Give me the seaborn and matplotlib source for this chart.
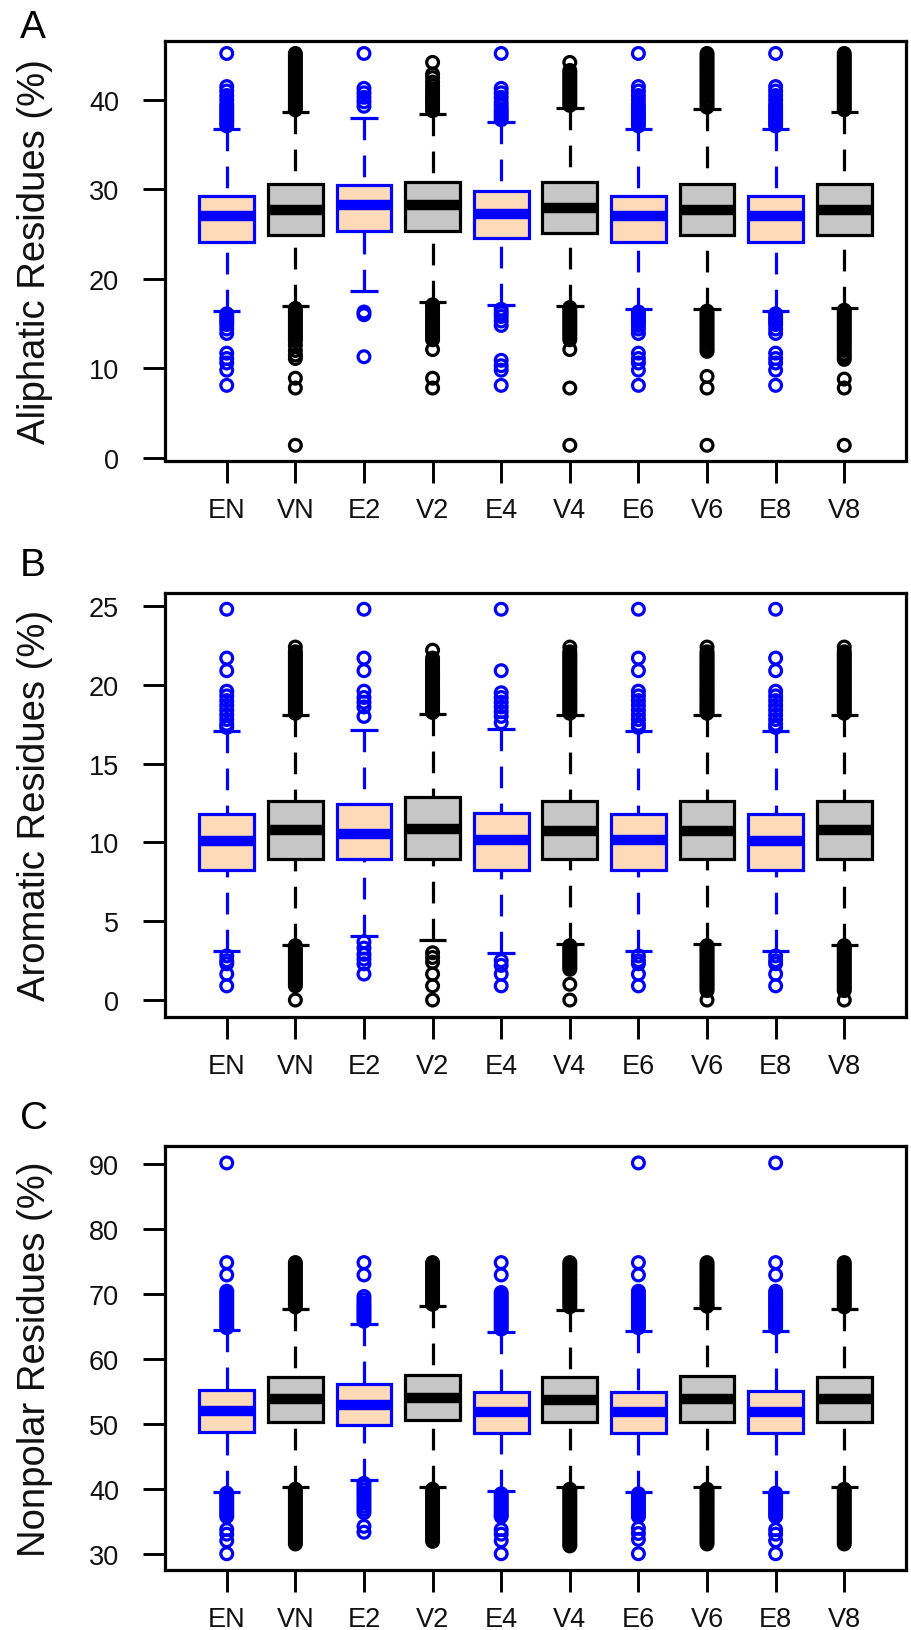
import numpy as np
import pandas as pd
import matplotlib
matplotlib.use("Agg")
import matplotlib.pyplot as plt
import seaborn as sns

# ---------------- data ----------------
labels = ["EN", "VN", "E2", "V2", "E4", "V4", "E6", "V6", "E8", "V8"]
kinds = ["E", "V", "E", "V", "E", "V", "E", "V", "E", "V"]

# Panel A: Aliphatic residues
ali_q1 = [24.1, 24.9, 25.4, 25.4, 24.6, 25.1, 24.15, 24.9, 24.1, 24.9]
ali_med = [27.0, 27.7, 28.3, 28.3, 27.3, 27.9, 27.0, 27.7, 27.0, 27.7]
ali_q3 = [29.3, 30.6, 30.5, 30.8, 29.8, 30.8, 29.3, 30.6, 29.3, 30.6]
ali_lo = [16.4, 17.0, 18.7, 17.45, 17.1, 17.0, 16.6, 16.6, 16.4, 16.8]
ali_hi = [36.8, 38.7, 37.95, 38.4, 37.5, 39.1, 36.8, 38.95, 36.8, 38.7]
ali_fliers = [
    [45.2, 41.5, 41.0, 40.5, 40.0, 39.5, 39.2, 38.9, 38.6, 38.3, 38.0, 37.7, 37.4, 37.1,
     16.1, 15.8, 15.5, 15.2, 14.9, 14.4, 13.9, 11.7, 11.1, 10.6, 9.8, 8.1],
    [45.2, 44.9, 44.6, 44.3, 44.0, 43.7, 43.4, 43.1, 42.8, 42.5, 42.2, 41.9, 41.6, 41.3, 41.0,
     40.7, 40.4, 40.1, 39.8, 39.5, 39.2, 38.9,
     16.7, 16.4, 16.1, 15.8, 15.5, 15.2, 14.9, 14.6, 14.3, 14.0, 13.7, 13.4, 13.1,
     12.6, 12.0, 11.5, 11.1, 8.9, 7.8, 1.4],
    [45.2, 41.3, 40.8, 40.3, 39.8, 39.3,
     16.3, 16.0, 11.3],
    [44.2, 42.9, 42.5, 42.0, 41.6, 41.2, 40.9, 40.6, 40.3, 40.0, 39.7, 39.4, 39.1, 38.8,
     17.1, 16.8, 16.5, 16.2, 15.9, 15.6, 15.3, 15.0, 14.7, 14.4, 14.1, 13.8, 13.5, 13.2,
     12.1, 8.9, 7.8],
    [45.2, 41.3, 40.8, 40.3, 39.8, 39.4, 39.0, 38.7, 38.4, 38.1, 37.8,
     16.6, 16.2, 15.8, 15.3, 14.8, 10.9, 10.3, 9.8, 8.1],
    [44.2, 43.3, 43.0, 42.7, 42.4, 42.1, 41.8, 41.5, 41.2, 40.9, 40.6, 40.3, 40.0, 39.7, 39.4,
     16.8, 16.5, 16.2, 15.9, 15.6, 15.3, 15.0, 14.7, 14.4, 14.1, 13.8, 13.5, 13.2,
     12.1, 7.8, 1.4],
    [45.2, 41.5, 41.0, 40.5, 40.0, 39.5, 39.2, 38.9, 38.6, 38.3, 38.0, 37.7, 37.4, 37.1,
     16.3, 16.0, 15.7, 15.4, 15.1, 14.8, 14.4, 13.9, 11.7, 11.1, 10.6, 9.8, 8.1],
    [45.2, 44.9, 44.6, 44.3, 44.0, 43.7, 43.4, 43.1, 42.8, 42.5, 42.2, 41.9, 41.6, 41.3, 41.0,
     40.7, 40.4, 40.1, 39.8, 39.5, 39.2,
     16.4, 16.1, 15.8, 15.5, 15.2, 14.9, 14.6, 14.3, 14.0, 13.7, 13.4, 13.1, 12.8, 12.5,
     12.2, 11.9, 9.1, 7.8, 1.4],
    [45.2, 41.5, 41.0, 40.5, 40.0, 39.5, 39.2, 38.9, 38.6, 38.3, 38.0, 37.7, 37.4, 37.1,
     16.1, 15.8, 15.5, 15.2, 14.9, 14.4, 13.9, 11.7, 11.1, 10.6, 9.8, 8.1],
    [45.2, 44.9, 44.6, 44.3, 44.0, 43.7, 43.4, 43.1, 42.8, 42.5, 42.2, 41.9, 41.6, 41.3, 41.0,
     40.7, 40.4, 40.1, 39.8, 39.5, 39.2, 38.9,
     16.5, 16.2, 15.9, 15.6, 15.3, 15.0, 14.7, 14.4, 14.1, 13.8, 13.5, 13.2, 12.9, 12.6,
     12.3, 12.0, 11.6, 11.3, 11.0, 8.8, 7.8, 1.4],
]

# Panel B: Aromatic residues
aro_q1 = [8.26, 8.92, 8.96, 8.96, 8.26, 8.92, 8.26, 8.92, 8.26, 8.92]
aro_med = [10.08, 10.8, 10.55, 10.87, 10.13, 10.7, 10.13, 10.7, 10.08, 10.8]
aro_q3 = [11.82, 12.6, 12.46, 12.88, 11.9, 12.6, 11.82, 12.6, 11.82, 12.6]
aro_lo = [3.09, 3.5, 4.05, 3.83, 2.99, 3.56, 3.09, 3.56, 3.09, 3.5]
aro_hi = [17.06, 18.07, 17.16, 18.14, 17.2, 18.07, 17.06, 18.07, 17.06, 18.07]
aro_fliers = [
    [24.8, 21.7, 20.9, 19.6, 19.3, 19.0, 18.7, 18.4, 18.1, 17.8, 17.5, 17.3,
     2.8, 2.5, 2.3, 1.65, 0.9],
    [22.4, 22.1, 21.95, 21.8, 21.65, 21.5, 21.35, 21.2, 21.05, 20.9, 20.75, 20.6, 20.45,
     20.3, 20.15, 20.0, 19.85, 19.7, 19.55, 19.4, 19.25, 19.1, 18.95, 18.8, 18.65, 18.5,
     18.35, 18.2,
     3.45, 3.3, 3.15, 3.0, 2.85, 2.7, 2.55, 2.4, 2.25, 2.1, 1.95, 1.8, 1.65, 1.5, 1.35,
     1.2, 1.05, 0.9, 0.0],
    [24.8, 21.7, 20.9, 19.6, 19.2, 18.9, 18.6, 18.0,
     3.7, 3.3, 2.9, 2.6, 2.3, 1.65],
    [22.2, 21.7, 21.55, 21.4, 21.25, 21.1, 20.95, 20.8, 20.65, 20.5, 20.35, 20.2, 20.05,
     19.9, 19.75, 19.6, 19.45, 19.3, 19.15, 19.0, 18.85, 18.7, 18.55, 18.4, 18.25,
     3.0, 2.7, 2.4, 1.65, 0.9, 0.0],
    [24.8, 20.9, 19.5, 19.2, 18.9, 18.6, 18.3, 18.0, 17.6,
     2.5, 2.2, 1.65, 0.9],
    [22.4, 22.1, 21.95, 21.8, 21.65, 21.5, 21.35, 21.2, 21.05, 20.9, 20.75, 20.6, 20.45,
     20.3, 20.15, 20.0, 19.85, 19.7, 19.55, 19.4, 19.25, 19.1, 18.95, 18.8, 18.65, 18.5,
     18.35, 18.2,
     3.45, 3.3, 3.15, 3.0, 2.85, 2.7, 2.55, 2.4, 2.25, 2.1, 1.95, 1.0, 0.0],
    [24.8, 21.7, 20.9, 19.6, 19.3, 19.0, 18.7, 18.4, 18.1, 17.8, 17.5, 17.3,
     2.8, 2.5, 2.3, 1.65, 0.9],
    [22.4, 22.1, 21.95, 21.8, 21.65, 21.5, 21.35, 21.2, 21.05, 20.9, 20.75, 20.6, 20.45,
     20.3, 20.15, 20.0, 19.85, 19.7, 19.55, 19.4, 19.25, 19.1, 18.95, 18.8, 18.65, 18.5,
     18.35, 18.2,
     3.45, 3.3, 3.15, 3.0, 2.85, 2.7, 2.55, 2.4, 2.25, 2.1, 1.95, 1.8, 1.65, 1.5, 1.35,
     1.2, 1.05, 0.9, 0.75, 0.6, 0.0],
    [24.8, 21.7, 20.9, 19.6, 19.3, 19.0, 18.7, 18.4, 18.1, 17.8, 17.5, 17.3,
     2.8, 2.5, 2.3, 1.65, 0.9],
    [22.4, 22.1, 21.95, 21.8, 21.65, 21.5, 21.35, 21.2, 21.05, 20.9, 20.75, 20.6, 20.45,
     20.3, 20.15, 20.0, 19.85, 19.7, 19.55, 19.4, 19.25, 19.1, 18.95, 18.8, 18.65, 18.5,
     18.35, 18.2,
     3.45, 3.3, 3.15, 3.0, 2.85, 2.7, 2.55, 2.4, 2.25, 2.1, 1.95, 1.8, 1.65, 1.5, 1.35,
     1.2, 1.05, 0.9, 0.75, 0.6, 0.0],
]

# Panel C: Nonpolar residues
npl_q1 = [48.78, 50.4, 49.9, 50.7, 48.7, 50.4, 48.7, 50.4, 48.7, 50.4]
npl_med = [52.0, 53.8, 52.9, 54.05, 51.9, 53.7, 51.9, 53.8, 51.9, 53.8]
npl_q3 = [55.23, 57.3, 56.1, 57.6, 55.0, 57.3, 55.0, 57.4, 55.1, 57.3]
npl_lo = [39.6, 40.3, 41.35, 40.3, 39.7, 40.3, 39.6, 40.3, 39.6, 40.3]
npl_hi = [64.4, 67.6, 65.3, 68.1, 64.1, 67.5, 64.3, 67.9, 64.3, 67.6]
npl_fliers = [
    [90.1, 74.8, 72.9, 70.4, 70.0, 69.6, 69.2, 68.8, 68.4, 68.0, 67.6, 67.2, 66.8, 66.4,
     66.0, 65.6, 65.2, 64.8,
     39.4, 39.0, 38.6, 38.2, 37.8, 37.4, 37.0, 36.6, 36.2, 35.8, 33.8, 33.1, 32.1, 30.1],
    [74.8, 74.4, 74.0, 73.6, 73.2, 72.8, 72.4, 72.0, 71.6, 71.2, 70.8, 70.4, 70.0, 69.6,
     69.2, 68.8, 68.4, 68.0,
     40.0, 39.6, 39.2, 38.8, 38.4, 38.0, 37.6, 37.2, 36.8, 36.4, 36.0, 35.6, 35.2, 34.8,
     34.4, 34.0, 33.6, 33.2, 32.8, 32.4, 32.0, 31.6],
    [74.8, 72.9, 69.6, 69.1, 68.6, 68.2, 67.8, 67.4, 67.0, 66.6, 66.2, 65.8,
     40.9, 40.4, 39.9, 39.4, 38.9, 38.4, 37.9, 37.4, 36.9, 36.4, 34.3, 33.4],
    [74.8, 74.4, 74.0, 73.6, 73.2, 72.8, 72.4, 72.0, 71.6, 71.2, 70.8, 70.4, 70.0, 69.6,
     69.2, 68.8, 68.4,
     40.0, 39.6, 39.2, 38.8, 38.4, 38.0, 37.6, 37.2, 36.8, 36.4, 36.0, 35.6, 35.2, 34.8,
     34.4, 34.0, 33.6, 33.2, 32.8, 32.4, 32.0],
    [74.8, 72.9, 70.2, 69.8, 69.4, 69.0, 68.6, 68.2, 67.8, 67.4, 67.0, 66.6, 66.2, 65.8,
     65.4, 65.0, 64.6,
     39.3, 38.9, 38.5, 38.1, 37.7, 37.3, 36.9, 36.5, 36.1, 35.8, 33.8, 33.1, 32.1, 30.1],
    [74.8, 74.4, 74.0, 73.6, 73.2, 72.8, 72.4, 72.0, 71.6, 71.2, 70.8, 70.4, 70.0, 69.6,
     69.2, 68.8, 68.4, 68.0,
     40.0, 39.6, 39.2, 38.8, 38.4, 38.0, 37.6, 37.2, 36.8, 36.4, 36.0, 35.6, 35.2, 34.8,
     34.4, 34.0, 33.6, 33.2, 32.8, 32.4, 32.0, 31.6, 31.3],
    [90.1, 74.8, 72.9, 70.4, 70.0, 69.6, 69.2, 68.8, 68.4, 68.0, 67.6, 67.2, 66.8, 66.4,
     66.0, 65.6, 65.2, 64.8,
     39.3, 38.9, 38.5, 38.1, 37.7, 37.3, 36.9, 36.5, 36.1, 35.8, 34.0, 33.2, 32.3, 30.1],
    [74.8, 74.4, 74.0, 73.6, 73.2, 72.8, 72.4, 72.0, 71.6, 71.2, 70.8, 70.4, 70.0, 69.6,
     69.2, 68.8, 68.4, 68.1,
     40.0, 39.6, 39.2, 38.8, 38.4, 38.0, 37.6, 37.2, 36.8, 36.4, 36.0, 35.6, 35.2, 34.8,
     34.4, 34.0, 33.6, 33.2, 32.8, 32.4, 32.0, 31.6],
    [90.1, 74.8, 72.9, 70.4, 70.0, 69.6, 69.2, 68.8, 68.4, 68.0, 67.6, 67.2, 66.8, 66.4,
     66.0, 65.6, 65.2, 64.8,
     39.4, 39.0, 38.6, 38.2, 37.8, 37.4, 37.0, 36.6, 36.2, 35.8, 33.8, 33.1, 32.1, 30.1],
    [74.8, 74.4, 74.0, 73.6, 73.2, 72.8, 72.4, 72.0, 71.6, 71.2, 70.8, 70.4, 70.0, 69.6,
     69.2, 68.8, 68.4, 68.0,
     40.0, 39.6, 39.2, 38.8, 38.4, 38.0, 37.6, 37.2, 36.8, 36.4, 36.0, 35.6, 35.2, 34.8,
     34.4, 34.0, 33.6, 33.2, 32.8, 32.4, 32.0, 31.6],
]

ylabels = ["Aliphatic Residues (%)", "Aromatic Residues (%)", "Nonpolar Residues (%)"]
panel_letters = ["A", "B", "C"]
yticks_A = [0, 10, 20, 30, 40]
yticks_B = [0, 5, 10, 15, 20, 25]
yticks_C = [30, 40, 50, 60, 70, 80, 90]

# ---------------- style ----------------
sns.set_style("ticks")
plt.rcParams["font.family"] = ["Liberation Sans", "DejaVu Sans"]
plt.rcParams["text.color"] = "black"
plt.rcParams["axes.labelcolor"] = "black"

BLUE = "#0000FF"
PEACH = "#FFDAB9"
GRAY = "#C6C6C6"
LW = 2.3

W, H = 911, 1631
fig = plt.figure(figsize=(W / 100, H / 100), dpi=100)

left = 165 / W
width = (906 - 165) / W
panels_px = [(41.5, 461.5), (594.0, 1017.6), (1147.0, 1571.0)]
ylims = [(-0.3, 46.65), (-1.05, 25.83), (27.6, 92.7)]
letter_base = [38, 576, 1129]


def draw_panel(ax, q1, med, q3, lo, hi, fliers, ylim, yticks):
    pos = np.arange(1, len(labels) + 1)
    stats = [dict(label=l, q1=a, med=m, q3=c, whislo=d, whishi=e, fliers=[])
             for l, a, m, c, d, e in zip(labels, q1, med, q3, lo, hi)]
    art = ax.bxp(stats, positions=pos, widths=0.8, capwidths=0.4,
                 patch_artist=True, showfliers=False, manage_ticks=False)
    for i, k in enumerate(kinds):
        edge = BLUE if k == "E" else "black"
        fill = PEACH if k == "E" else GRAY
        b = art["boxes"][i]
        b.set_facecolor(fill)
        b.set_edgecolor(edge)
        b.set_linewidth(LW)
        b.set_joinstyle("miter")
        m = art["medians"][i]
        m.set_color(edge)
        m.set_linewidth(7.5)
        m.set_solid_capstyle("butt")
        for w in art["whiskers"][2 * i:2 * i + 2]:
            xd, yd = w.get_data()
            w.set_data(xd[::-1], yd[::-1])  # dash pattern starts at the staple, as in R
            w.set_color(edge)
            w.set_linewidth(LW)
            w.set_linestyle((0, (6.8, 4.8)))
            w.set_dash_capstyle("butt")
        for c in art["caps"][2 * i:2 * i + 2]:
            c.set_color(edge)
            c.set_linewidth(LW)
            c.set_solid_capstyle("butt")

    rows = []
    for i, vals in enumerate(fliers):
        for v in vals:
            rows.append((pos[i], v, kinds[i]))
    df = pd.DataFrame(rows, columns=["pos", "value", "kind"])
    sns.scatterplot(data=df, x="pos", y="value", hue="kind",
                    palette={"E": BLUE, "V": "black"}, s=72, marker="o",
                    linewidth=2.3, legend=False, ax=ax, zorder=5)
    coll = ax.collections[-1]
    fc = coll.get_facecolors()
    coll.set_edgecolors(fc)
    coll.set_facecolors("none")
    coll.set_linewidths(2.3)
    coll.set_clip_on(False)

    ax.set_xlim(0.1, 10.9)
    ax.set_ylim(*ylim)
    ax.set_xticks(pos)
    ax.set_xticklabels(labels)
    ax.set_yticks(yticks)
    ax.set_xlabel("")
    ax.set_ylabel("")
    ax.grid(False)
    for sp in ax.spines.values():
        sp.set_visible(True)
        sp.set_linewidth(2.3)
        sp.set_color("black")
    ax.tick_params(axis="both", direction="out", length=16, width=2.1,
                   labelsize=19.5, color="black", labelcolor="#111111")
    ax.tick_params(axis="y", pad=17)
    ax.tick_params(axis="x", pad=10)


data_sets = [
    (ali_q1, ali_med, ali_q3, ali_lo, ali_hi, ali_fliers, yticks_A),
    (aro_q1, aro_med, aro_q3, aro_lo, aro_hi, aro_fliers, yticks_B),
    (npl_q1, npl_med, npl_q3, npl_lo, npl_hi, npl_fliers, yticks_C),
]

for p, ((top, bot), ylim, ds) in enumerate(zip(panels_px, ylims, data_sets)):
    ax = fig.add_axes([left, 1 - bot / H, width, (bot - top) / H])
    q1, med, q3, lo, hi, fl, yt = ds
    draw_panel(ax, q1, med, q3, lo, hi, fl, ylim, yt)
    fig.text(35 / W, 1 - (top + bot) / 2 / H, ylabels[p], rotation=90,
             ha="center", va="center", fontsize=27.5, color="#111111")
    fig.text(20 / W, 1 - letter_base[p] / H, panel_letters[p], ha="left",
             va="baseline", fontsize=28, color="black")

fig.savefig("out.png", dpi=100)
